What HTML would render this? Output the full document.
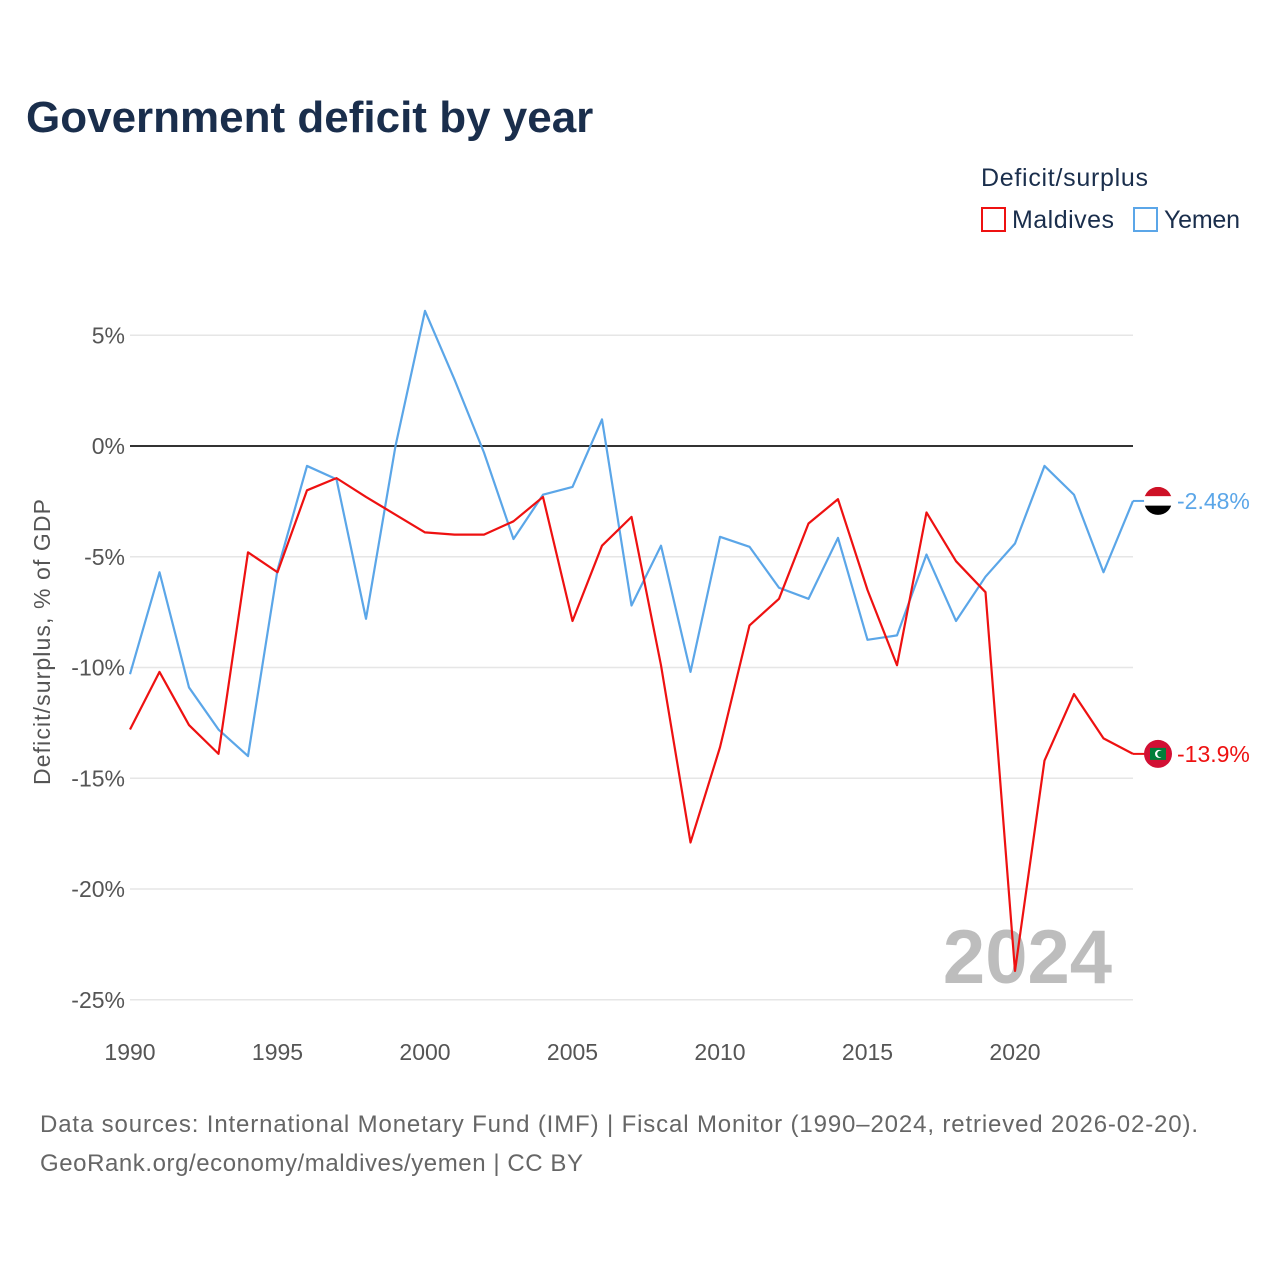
<!DOCTYPE html>
<html><head><meta charset="utf-8">
<style>
body{margin:0;background:#fff;font-family:"Liberation Sans",sans-serif;}
svg{display:block}
</style></head>
<body>
<svg id="chart" width="1280" height="1280" viewBox="0 0 1280 1280">
<text x="26" y="132" font-size="44" font-weight="bold" fill="#1a2e4c">Government deficit by year</text>
<text x="981" y="186" font-size="25" fill="#1a2e4c" textLength="167">Deficit/surplus</text>
<g><rect x="982" y="208" width="23" height="23" fill="none" stroke="#ee1111" stroke-width="2"/><text x="1012" y="228" font-size="25" fill="#1a2e4c" textLength="102">Maldives</text></g>
<g><rect x="1134" y="208" width="23" height="23" fill="none" stroke="#5ba6e8" stroke-width="2"/><text x="1164" y="228" font-size="25" fill="#1a2e4c" textLength="76">Yemen</text></g>
<g id="grid"></g>
<text x="1112" y="983" font-size="76" font-weight="bold" fill="#bdbdbd" text-anchor="end">2024</text>
<g id="series"></g>
<text transform="translate(50,642) rotate(-90)" font-size="23" fill="#555" text-anchor="middle" textLength="286">Deficit/surplus, % of GDP</text>
<text x="40" y="1132" font-size="24" fill="#666" textLength="1158">Data sources: International Monetary Fund (IMF) | Fiscal Monitor (1990–2024, retrieved 2026-02-20).</text>
<text x="40" y="1171" font-size="24" fill="#666" textLength="543">GeoRank.org/economy/maldives/yemen | CC BY</text>
</svg>
<script>
const years=[];for(let y=1990;y<=2024;y++)years.push(y);
const maldives=[-12.8,-10.2,-12.6,-13.9,-4.8,-5.7,-2.0,-1.45,-2.3,-3.1,-3.9,-4.0,-4.0,-3.4,-2.3,-7.9,-4.5,-3.2,-9.9,-17.9,-13.6,-8.1,-6.9,-3.5,-2.4,-6.5,-9.9,-3.0,-5.2,-6.6,-23.7,-14.2,-11.2,-13.2,-13.9];
const yemen=[-10.3,-5.7,-10.9,-12.8,-14.0,-5.6,-0.9,-1.5,-7.8,0.0,6.1,3.0,-0.3,-4.2,-2.2,-1.85,1.2,-7.2,-4.5,-10.2,-4.1,-4.55,-6.4,-6.9,-4.15,-8.75,-8.55,-4.9,-7.9,-5.9,-4.4,-0.9,-2.2,-5.7,-2.48];
const yTicks=[5,0,-5,-10,-15,-20,-25];
const xTicks=[1990,1995,2000,2005,2010,2015,2020];
const NS='http://www.w3.org/2000/svg';
const xs=y=>130+(y-1990)*(1133-130)/34;
const ys=v=>446-v*22.15;
const grid=document.getElementById('grid'),ser=document.getElementById('series');
function mk(tag,attrs,parent,txt){const e=document.createElementNS(NS,tag);for(const k in attrs)e.setAttribute(k,attrs[k]);if(txt!==undefined)e.textContent=txt;parent.appendChild(e);return e;}
yTicks.forEach(v=>{
 const l=mk('line',{x1:130,x2:1133,y1:ys(v),y2:ys(v),stroke:v===0?'#333':'#e6e6e6','stroke-width':v===0?2:1.5},grid);
 
 
 const t=mk('text',{x:125,y:ys(v)+8,'font-size':23,fill:'#555','text-anchor':'end'},grid,v+'%');
 
 
});
xTicks.forEach(y=>{
 const t=mk('text',{x:xs(y),y:1060,'font-size':23,fill:'#555','text-anchor':'middle'},grid,String(y));
 
 
});
function line(data,color,name){
 const p=mk('polyline',{points:data.map((v,i)=>xs(years[i])+','+ys(v)).join(' '),fill:'none',stroke:color,'stroke-width':2.2,'stroke-linejoin':'round'},ser);
 
 
}
line(yemen,'#5ba6e8','yemen-line');
line(maldives,'#ee1111','maldives-line');
function endLabel(data,color,name,flag){
 const v=data[data.length-1],y=ys(v),x=xs(2024);
 const c=mk('line',{x1:x,x2:x+14,y1:y,y2:y,stroke:color,'stroke-width':2},ser);
 
 
 const g=mk('g',{},ser);
 
 
 const cx=x+25;
 if(flag==='ye'){
  mk('clipPath',{id:'cy'},g);mk('circle',{cx:cx,cy:y,r:14},g.lastChild);
  mk('rect',{x:cx-14,y:y-14,width:28,height:9.4,fill:'#ce1126','clip-path':'url(#cy)'},g);
  mk('rect',{x:cx-14,y:y-4.7,width:28,height:9.4,fill:'#fff','clip-path':'url(#cy)'},g);
  mk('rect',{x:cx-14,y:y+4.7,width:28,height:9.4,fill:'#000','clip-path':'url(#cy)'},g);
 }else{
  mk('circle',{cx:cx,cy:y,r:14,fill:'#d21034'},g);
  mk('rect',{x:cx-8,y:y-6,width:16,height:12,fill:'#007e3a'},g);
  mk('circle',{cx:cx+1,cy:y,r:4,fill:'#fff'},g);
  mk('circle',{cx:cx+2.5,cy:y,r:3.3,fill:'#007e3a'},g);
 }
 const t=mk('text',{x:x+44,y:y+8,'font-size':23,fill:color},ser,(v===-13.9?'-13.9':v.toFixed(2))+'%');
 
 
}
endLabel(yemen,'#5ba6e8','yemen','ye');
endLabel(maldives,'#ee1111','maldives','mv');
</script>
</body></html>
